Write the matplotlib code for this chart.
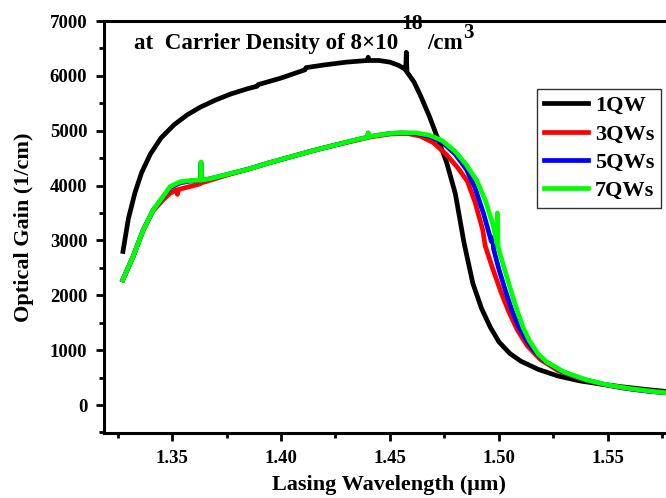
import matplotlib
matplotlib.use("Agg")
import matplotlib.pyplot as plt
from matplotlib.ticker import MultipleLocator, FormatStrFormatter

plt.rcParams['font.family'] = ['Liberation Serif', 'DejaVu Serif']
plt.rcParams['font.weight'] = 'bold'

# 1QW
wl_1qw = [1.3275, 1.330, 1.333, 1.336, 1.340, 1.345, 1.351, 1.357, 1.363, 1.370,
          1.377, 1.385, 1.389, 1.3895, 1.400, 1.411, 1.4115, 1.420, 1.430, 1.4395,
          1.440, 1.4405, 1.445, 1.450, 1.454, 1.457, 1.4572, 1.4575, 1.4578, 1.461,
          1.464, 1.468, 1.472, 1.476, 1.480, 1.484, 1.488, 1.492, 1.496, 1.500,
          1.505, 1.510, 1.518, 1.527, 1.537, 1.547, 1.557, 1.567, 1.580]
g_1qw = [2800, 3400, 3870, 4230, 4570, 4870, 5110, 5290, 5430, 5560,
         5670, 5770, 5810, 5840, 5960, 6110, 6150, 6200, 6250, 6280,
         6340, 6280, 6280, 6250, 6190, 6120, 6100, 6430, 6070, 5890,
         5640, 5270, 4850, 4420, 3850, 2950, 2220, 1760, 1420, 1150,
         940, 800, 650, 530, 440, 380, 330, 285, 235]

# multi quantum wells
wl_7qw = [1.3274, 1.3321, 1.3368, 1.3413, 1.3459, 1.3491, 1.3537, 1.358, 1.3628, 1.3631,
          1.3633, 1.3636, 1.367, 1.375, 1.385, 1.395, 1.405, 1.415, 1.425, 1.435,
          1.4398, 1.440, 1.4402, 1.445, 1.450, 1.455, 1.462, 1.468, 1.474, 1.480,
          1.485, 1.490, 1.494, 1.4975, 1.499, 1.4993, 1.4996, 1.502, 1.505, 1.508,
          1.511, 1.514, 1.518, 1.522, 1.530, 1.540, 1.550, 1.560, 1.570, 1.580]
g_7qw = [2280, 2700, 3190, 3550, 3800, 3980, 4070, 4090, 4100, 4100,
         4430, 4100, 4120, 4200, 4300, 4420, 4530, 4640, 4740, 4840,
         4880, 4960, 4890, 4920, 4950, 4960, 4960, 4920, 4820, 4620,
         4380, 4080, 3700, 3250, 2950, 3500, 2880, 2550, 2150, 1760,
         1420, 1170, 930, 780, 600, 460, 365, 300, 250, 210]

wl_5qw = [1.3274, 1.3321, 1.3368, 1.3413, 1.3459, 1.3491, 1.3537, 1.358, 1.3628, 1.3631,
          1.3633, 1.3636, 1.367, 1.375, 1.385, 1.395, 1.405, 1.415, 1.425, 1.435,
          1.4398, 1.440, 1.4402, 1.445, 1.450, 1.455, 1.462, 1.468, 1.474, 1.480,
          1.485, 1.489, 1.493, 1.4965, 1.4972, 1.4975, 1.500, 1.503, 1.506, 1.509,
          1.513, 1.517, 1.521, 1.529, 1.539, 1.549, 1.559, 1.569, 1.580]
g_5qw = [2280, 2700, 3190, 3550, 3790, 3960, 4050, 4080, 4100, 4100,
         4420, 4100, 4120, 4200, 4300, 4420, 4530, 4640, 4740, 4840,
         4880, 4960, 4890, 4920, 4950, 4960, 4950, 4900, 4790, 4570,
         4300, 3960, 3480, 2980, 3050, 2850, 2470, 2080, 1720, 1430,
         1160, 950, 800, 610, 465, 370, 300, 250, 210]

wl_3qw = [1.3274, 1.3321, 1.3368, 1.3413, 1.3459, 1.3491, 1.3520, 1.3525, 1.3530, 1.357,
          1.3628, 1.3631, 1.3633, 1.3636, 1.367, 1.375, 1.385, 1.395, 1.405, 1.415,
          1.425, 1.435, 1.440, 1.445, 1.450, 1.458, 1.464, 1.470, 1.476, 1.481,
          1.4855, 1.489, 1.4925, 1.4935, 1.4937, 1.497, 1.501, 1.5045, 1.5084, 1.513,
          1.519, 1.527, 1.537, 1.547, 1.557, 1.567, 1.580]
g_3qw = [2280, 2700, 3190, 3540, 3740, 3860, 3920, 3840, 3930, 3970,
         4030, 4040, 4380, 4050, 4090, 4190, 4300, 4420, 4530, 4640,
         4740, 4830, 4880, 4910, 4940, 4950, 4900, 4780, 4560, 4330,
         4080, 3700, 3200, 2950, 2900, 2500, 2050, 1700, 1370, 1080,
         830, 630, 480, 380, 310, 260, 210]

fig = plt.figure(figsize=(6.66, 4.98), dpi=100)
ax = fig.add_axes([104 / 666, 65 / 498, 570 / 666, 412 / 498])

ax.plot(wl_1qw, g_1qw, color='black', lw=3.4, label='1QW')
ax.plot(wl_3qw, g_3qw, color='#ff0000', lw=3.4, label='3QWs')
ax.plot(wl_5qw, g_5qw, color='#0000ff', lw=3.4, label='5QWs')
ax.plot(wl_7qw, g_7qw, color='#00ff00', lw=3.4, label='7QWs')

ax.set_xlim(1.3188, 1.5803)
ax.set_ylim(-510, 7000)

ax.xaxis.set_major_locator(MultipleLocator(0.05))
ax.xaxis.set_minor_locator(MultipleLocator(0.025))
ax.xaxis.set_major_formatter(FormatStrFormatter('%.2f'))
ax.yaxis.set_major_locator(MultipleLocator(1000))
ax.yaxis.set_minor_locator(MultipleLocator(500))
ax.tick_params(which='major', direction='out', length=6, width=2, labelsize=13.5, pad=6)
ax.tick_params(which='minor', direction='out', length=3.5, width=2)
for lab in ax.get_xticklabels() + ax.get_yticklabels():
    lab.set_fontweight('bold')
for s in ['left', 'bottom', 'top']:
    ax.spines[s].set_linewidth(2.2)
ax.spines['right'].set_visible(False)

ax.set_xlabel('Lasing Wavelength (\u03bcm)', fontsize=16, fontweight='bold', labelpad=6)
ax.set_ylabel('Optical Gain (1/cm)', fontsize=16, fontweight='bold', labelpad=11)

# annotation with large superscripts, placed piece by piece
renderer = fig.canvas.get_renderer()


def put(s, x, y_base, size):
    t = fig.text(x / 666, 1 - y_base / 498, s, fontsize=size, fontweight='bold',
                 ha='left', va='baseline')
    return t.get_window_extent(renderer).x1


x = put('at  Carrier Density of 8\u00d710', 134, 49, 16.6)
x = put('18', x + 3, 29, 15.5)
x = put('/cm', x + 4, 49, 16.6)
put('3', x + 1, 38, 15)

leg = ax.legend(loc='upper left', bbox_to_anchor=(537 / 666, 1 - 89 / 498),
                bbox_transform=fig.transFigure, fancybox=False, edgecolor='black',
                prop={'family': 'Liberation Serif', 'weight': 'bold', 'size': 16},
                handlelength=2.0, handletextpad=0.3, labelspacing=0.35,
                borderpad=0.3, borderaxespad=0)
leg.get_frame().set_linewidth(1.0)

fig.savefig('out.png', dpi=100)
